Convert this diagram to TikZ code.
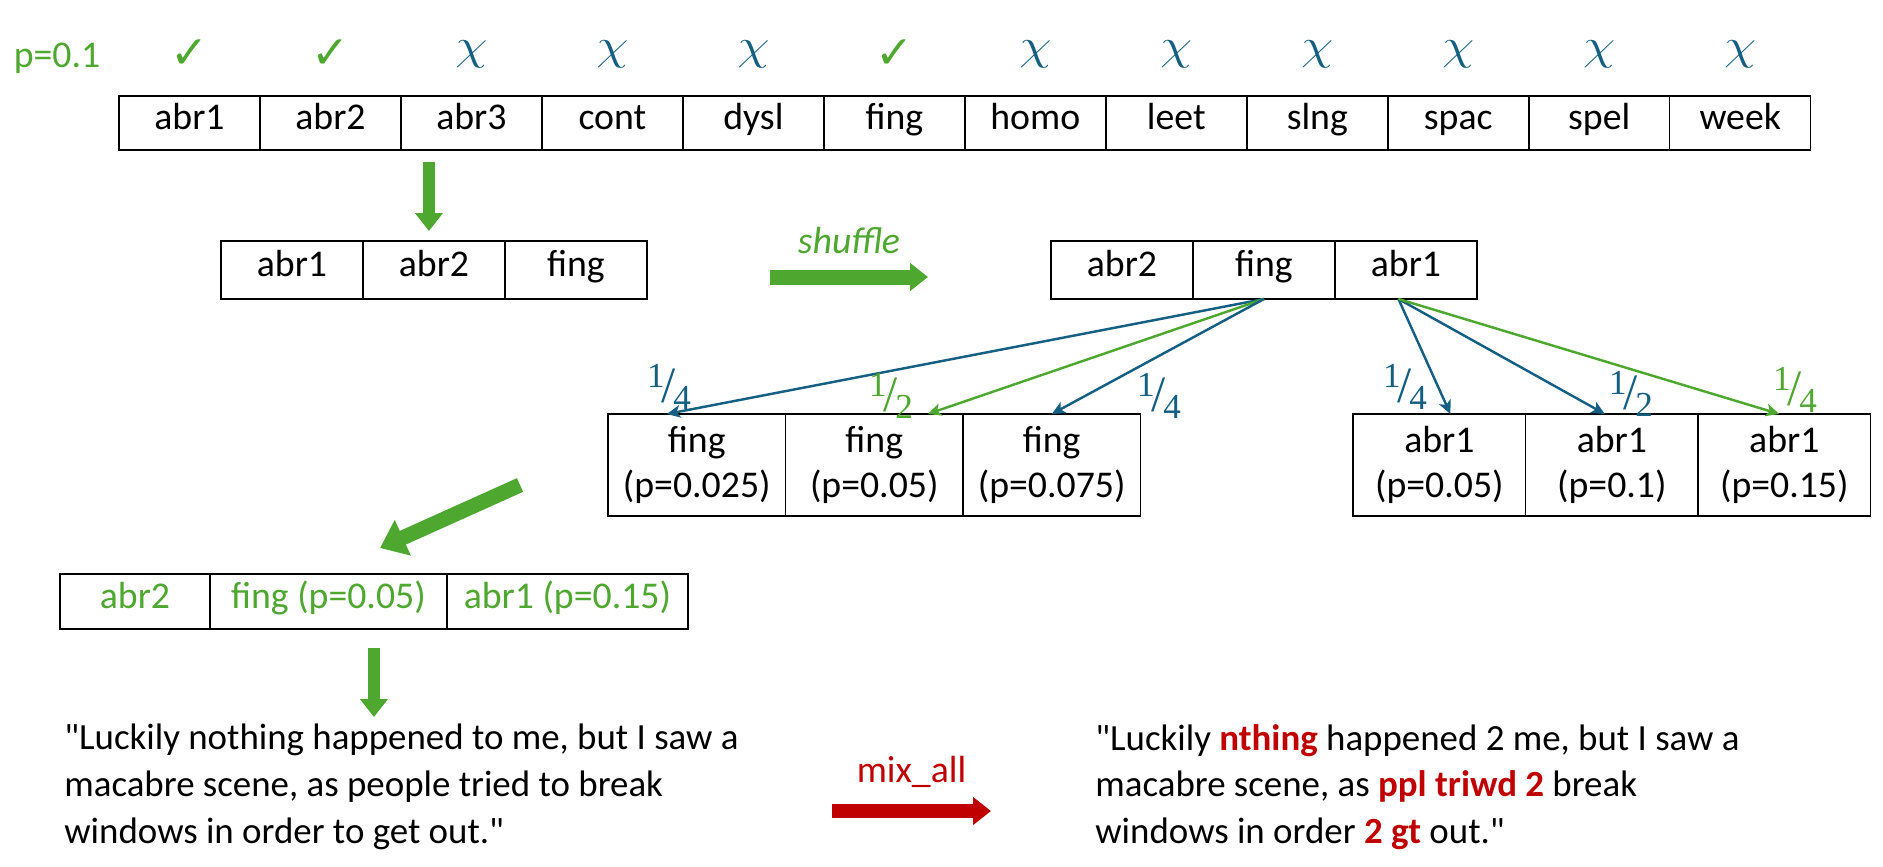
\documentclass[tikz,border=0pt]{standalone}
\usepackage{fontspec}
\setmainfont{Carlito}
\newfontfamily\symfont{DejaVu Sans}
\newfontfamily\fracfont{Liberation Serif}
\usetikzlibrary{arrows.meta,positioning,calc}
\definecolor{okgreen}{HTML}{4EA72E}
\definecolor{noblue}{HTML}{156082}
\definecolor{mixred}{HTML}{C00000}
\newcommand{\frc}[2]{{\fracfont\raisebox{0.42em}{#1}\kern-0.08em{\fontsize{29}{29}\selectfont/}\kern-0.08em\raisebox{-0.22em}{#2}}}

\begin{document}
\begin{tikzpicture}[x=0.02cm, y=-0.02cm, font=\fontsize{21.5}{26}\selectfont, node distance=0pt]
  \tikzstyle{cell}=[draw, line width=0.85pt, outer sep=0pt, inner sep=0pt, minimum width=2.82cm, minimum height=1.08cm, align=center, text height=0.95em, text depth=0.2em]
  \tikzstyle{midcell}=[cell, minimum width=2.84cm, minimum height=1.16cm]
  \tikzstyle{fingcell}=[cell, text height=, text depth=, minimum width=3.55cm, minimum height=2.04cm]
  \tikzstyle{abrcell}=[cell, text height=, text depth=, minimum width=3.45cm, minimum height=2.04cm]
  \tikzstyle{okmark}=[text=okgreen, font=\symfont\fontsize{26}{26}\selectfont]
  \tikzstyle{nomark}=[text=noblue, font=\fontsize{25}{25}\selectfont, xscale=1.2]
  \tikzstyle{frlabel}=[font=\fontsize{20}{20}\selectfont, inner sep=0pt]
  \tikzstyle{sentence}=[anchor=north west, inner sep=0pt, align=left, font=\fontsize{21}{26.5}\selectfont]
  \tikzstyle{thin}=[line width=1.4pt, -{Stealth[length=2.7mm, width=2.5mm, inset=0.7mm]}]
  \tikzstyle{bigarrow}=[line width=0.24cm, -{Triangle[length=0.36cm, width=0.54cm]}]
  \useasboundingbox (0,0) rectangle (1883,866);

  % all perturbations with p=0.1
  \node[text=okgreen] (p) at (57,58) {p=0.1};
  \node[cell] (t1) at (189.5,123) {abr1};
  \node[cell, right=of t1] (t2) {abr2};
  \node[cell, right=of t2] (t3) {abr3};
  \node[cell, right=of t3] (t4) {cont};
  \node[cell, right=of t4] (t5) {dysl};
  \node[cell, right=of t5] (t6) {fing};
  \node[cell, right=of t6] (t7) {homo};
  \node[cell, right=of t7] (t8) {leet};
  \node[cell, right=of t8] (t9) {slng};
  \node[cell, right=of t9] (t10) {spac};
  \node[cell, right=of t10] (t11) {spel};
  \node[cell, right=of t11] (t12) {week};

  % sampled or not
  \coordinate (mk) at (0,54);
  \node[okmark] (m1) at (t1 |- mk) {✓};
  \node[okmark] (m2) at (t2 |- mk) {✓};
  \node[nomark] (m3) at (t3 |- mk) {$\chi$};
  \node[nomark] (m4) at (t4 |- mk) {$\chi$};
  \node[nomark] (m5) at (t5 |- mk) {$\chi$};
  \node[okmark] (m6) at (t6 |- mk) {✓};
  \node[nomark] (m7) at (t7 |- mk) {$\chi$};
  \node[nomark] (m8) at (t8 |- mk) {$\chi$};
  \node[nomark] (m9) at (t9 |- mk) {$\chi$};
  \node[nomark] (m10) at (t10 |- mk) {$\chi$};
  \node[nomark] (m11) at (t11 |- mk) {$\chi$};
  \node[nomark] (m12) at (t12 |- mk) {$\chi$};

  % selected, then shuffled
  \node[midcell] (b1) at (292,270) {abr1};
  \node[midcell, right=of b1] (b2) {abr2};
  \node[midcell, right=of b2] (b3) {fing};
  \node[midcell] (c1) at (1122,270) {abr2};
  \node[midcell, right=of c1] (c2) {fing};
  \node[midcell, right=of c2] (c3) {abr1};
  \draw[bigarrow, okgreen] ([shift={(-5,-79)}]b2.north) -- ([shift={(-5,-10)}]b2.north);
  \draw[bigarrow, okgreen, line width=0.3cm, shorten <=2.46cm, shorten >=2.46cm]
    ([yshift=-0.14cm]b3.east) -- node[above=0.2cm, font=\itshape\fontsize{21.5}{26}\selectfont]{shuffle} ([yshift=-0.14cm]c1.west);

  % p drawn for each selected one
  \node[fingcell] (f1) at (696.8,465) {fing\\(p=0.025)};
  \node[fingcell, right=of f1] (f2) {fing\\(p=0.05)};
  \node[fingcell, right=of f2] (f3) {fing\\(p=0.075)};
  \node[abrcell] (g1) at (1439.4,465) {abr1\\(p=0.05)};
  \node[abrcell, right=of g1] (g2) {abr1\\(p=0.1)};
  \node[abrcell, right=of g2] (g3) {abr1\\(p=0.15)};
  \draw[thin, noblue] (c2.south) -- ([xshift=-0.6cm]f1.north);
  \draw[thin, okgreen] (c2.south) -- ([xshift=1.07cm]f2.north);
  \draw[thin, noblue] (c2.south) -- (f3.north);
  \draw[thin, noblue] ([xshift=-0.15cm]c3.south) -- ([xshift=0.22cm]g1.north);
  \draw[thin, noblue] ([xshift=-0.15cm]c3.south) -- ([xshift=-0.14cm]g2.north);
  \draw[thin, okgreen] ([xshift=-0.15cm]c3.south) -- ([xshift=-0.1cm]g3.north);
  \node[frlabel, text=noblue] (q1) at (669,387) {\frc{1}{4}};
  \node[frlabel, text=okgreen] (q2) at (891,396) {\frc{1}{2}};
  \node[frlabel, text=noblue] (q3) at (1159,396) {\frc{1}{4}};
  \node[frlabel, text=noblue] (q4) at (1405,387) {\frc{1}{4}};
  \node[frlabel, text=noblue] (q5) at (1631,394) {\frc{1}{2}};
  \node[frlabel, text=okgreen] (q6) at (1795,390) {\frc{1}{4}};

  % final list of perturbations
  \node[cell, minimum width=3.0cm, minimum height=1.1cm, text=okgreen] (r1) at (135,601.5) {abr2};
  \node[cell, minimum width=4.74cm, minimum height=1.1cm, text=okgreen, right=of r1] (r2) {fing (p=0.05)};
  \node[cell, minimum width=4.82cm, minimum height=1.1cm, text=okgreen, right=of r2] (r3) {abr1 (p=0.15)};
  \coordinate (dgA) at (520,485);
  \coordinate (dgB) at (380,548);
  \draw[bigarrow, okgreen, line width=0.3cm, -{Triangle[length=0.5cm, width=0.75cm]}] (dgA) -- (dgB);
  \draw[bigarrow, okgreen] ($(r1.south west)!0.5!(r3.south east)+(0,19)$) -- ($(r1.south west)!0.5!(r3.south east)+(0,88)$);

  % sentence before and after
  \node[sentence] (src) at (64,724)
    {\textquotedbl Luckily nothing happened to me, but I saw a\\macabre scene, as people tried to break\\windows in order to get out.\textquotedbl};
  \node[sentence] (out) at (1095,724)
    {\textquotedbl Luckily \textbf{\color{mixred}nthing} happened 2 me, but I saw a\\macabre scene, as \textbf{\color{mixred}ppl triwd 2} break\\windows in order \textbf{\color{mixred}2 gt} out.\textquotedbl};
  \coordinate (mixA) at (832,811);
  \coordinate (mixB) at (991,811);
  \draw[bigarrow, mixred, line width=0.27cm] (mixA) -- node[above=0.22cm, text=mixred]{mix\_all} (mixB);
\end{tikzpicture}
\end{document}
